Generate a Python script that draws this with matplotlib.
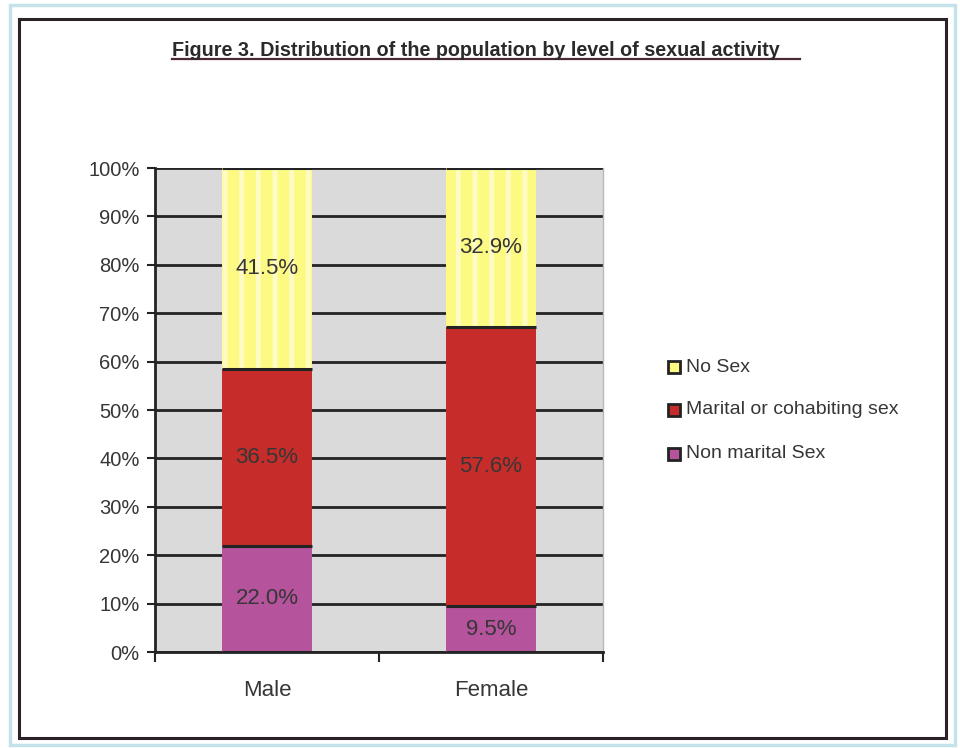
import matplotlib
matplotlib.use("Agg")
import matplotlib.pyplot as plt
from matplotlib.patches import Rectangle
from matplotlib.lines import Line2D
import numpy as np

# Data
categories = ["Male", "Female"]
series_names = ["Non marital Sex", "Marital or cohabiting sex", "No Sex"]
non_marital = [22.0, 9.5]
marital = [36.5, 57.6]
no_sex = [41.5, 32.9]
yticks_labels = ["0%", "10%", "20%", "30%", "40%", "50%", "60%", "70%", "80%", "90%", "100%"]
title_text = "Figure 3. Distribution of the population by level of sexual activity"

colors = ["#b5539c", "#c62d2a", "#fdfa84"]
stripe_color = "#fffbc4"
dark = "#232323"
text_color = "#363636"

plt.rcParams["font.family"] = ["Liberation Sans", "DejaVu Sans"]
plt.rcParams["hatch.linewidth"] = 3.5

fig = plt.figure(figsize=(9.6, 7.48), dpi=100)
fig.patch.set_facecolor("white")

# Page frames
fig.patches.append(Rectangle((10 / 960, 1 - 745 / 748), 945 / 960, 740 / 748,
                             transform=fig.transFigure, fill=False,
                             edgecolor="#c4e2ea", linewidth=2.5, zorder=0))
fig.patches.append(Rectangle((19 / 960, 1 - 738 / 748), 927 / 960, 719 / 748,
                             transform=fig.transFigure, fill=False,
                             edgecolor="#2a2226", linewidth=2.2, zorder=1))

ax = fig.add_axes([155 / 960, 1 - 652 / 748, 448 / 960, 484 / 748])
ax.set_facecolor("#dadada")

x = np.arange(len(categories))
width = 0.4
series = [non_marital, marital, no_sex]
bottom = np.zeros(len(categories))
for i, vals in enumerate(series):
    vals = np.array(vals) / 100.0
    ax.bar(x, vals, width, bottom=bottom, color=colors[i], linewidth=0, zorder=3)
    if i == 2:
        ax.bar(x, vals, width, bottom=bottom, color="none", edgecolor=stripe_color,
               hatch="|", linewidth=0, zorder=3.5)
    for xi, v, b in zip(x, vals, bottom):
        ax.text(xi, b + v / 2, f"{v * 100:.1f}%", ha="center", va="center",
                fontsize=16, color=text_color, zorder=5)
    bottom = bottom + vals

# Segment boundary lines
tops = np.cumsum(np.array(series) / 100.0, axis=0)
for xi in x:
    ax.hlines([0.0] + list(tops[:, xi]), xi - width / 2, xi + width / 2,
              colors=dark, linewidth=2.2, zorder=4)

ax.set_xlim(-0.5, len(categories) - 0.5)
ax.set_ylim(0, 1)
ax.set_yticks(np.linspace(0, 1, 11))
ax.set_yticklabels(yticks_labels, fontsize=14.5, color=text_color)
ax.yaxis.grid(True, color=dark, linewidth=2.0, zorder=1)
ax.set_axisbelow(True)

ax.set_xticks(x)
ax.set_xticklabels(categories, fontsize=16, color=text_color)
ax.tick_params(axis="x", length=0, pad=20)
ax.set_xticks(np.arange(-0.5, len(categories)), minor=True)
ax.tick_params(axis="x", which="minor", length=7, width=1.5, color=dark)
ax.tick_params(axis="y", length=6, width=1.5, color=dark, pad=5)

for side in ["left", "bottom"]:
    ax.spines[side].set_color(dark)
    ax.spines[side].set_linewidth(2.0)
ax.spines["top"].set_visible(False)
ax.spines["right"].set_color("#b8b8b8")
ax.spines["right"].set_linewidth(1.0)

# Title with underline
fig.text(476 / 960, 1 - 50 / 748, title_text, ha="center", va="center",
         fontsize=14.2, fontweight="bold", color="#2a2a2a")
fig.add_artist(Line2D([172 / 960, 800 / 960], [1 - 59 / 748, 1 - 59 / 748],
                      transform=fig.transFigure, color="#4a2a30", linewidth=1.6))

# Legend, drawn as evenly spaced rows (top series first)
legend_rows_y = [367, 410, 454]
for row_y, i in zip(legend_rows_y, [2, 1, 0]):
    fig.patches.append(Rectangle((668 / 960, 1 - (row_y + 6) / 748), 12 / 960, 12 / 748,
                                 transform=fig.transFigure, facecolor=colors[i],
                                 edgecolor=dark, linewidth=2.0, zorder=3))
    fig.text(686 / 960, 1 - row_y / 748, series_names[i], ha="left", va="center",
             fontsize=14, color=text_color)

fig.savefig("out.png", dpi=100, facecolor="white")
